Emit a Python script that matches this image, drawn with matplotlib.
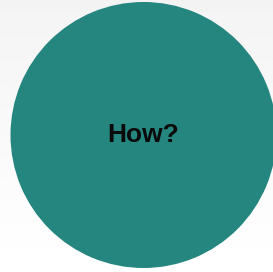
import numpy as np
import matplotlib
matplotlib.use("Agg")
import matplotlib.pyplot as plt

# Daten: ein einziger Kreis mit Beschriftung
labels = ["How?"]
sizes = [1]
colors = ["#25857f"]

W, H = 273, 272
fig = plt.figure(figsize=(W / 100, H / 100), dpi=100)

# Hintergrund: leichter Verlauf von grau (oben) nach weiss (unten)
bg = fig.add_axes([0, 0, 1, 1])
grad = np.linspace(0.955, 1.0, 256).reshape(-1, 1)
bg.imshow(grad, cmap="gray", vmin=0, vmax=1, aspect="auto", extent=[0, 1, 0, 1], origin="upper")
bg.axis("off")

ax = fig.add_axes([0, 0, 1, 1])
ax.pie(sizes, colors=colors, center=(143.5, 135), radius=133,
       startangle=90, frame=True, wedgeprops={"linewidth": 0})
ax.set_xlim(0, W)
ax.set_ylim(H, 0)
ax.set_aspect("equal")
ax.axis("off")

ax.text(143.5, 135, labels[0], ha="center", va="center",
        fontsize=19, fontweight="bold", color="#0a0a0a", family=["Liberation Sans", "DejaVu Sans"])

plt.savefig("out.png", dpi=100)
plt.close()
